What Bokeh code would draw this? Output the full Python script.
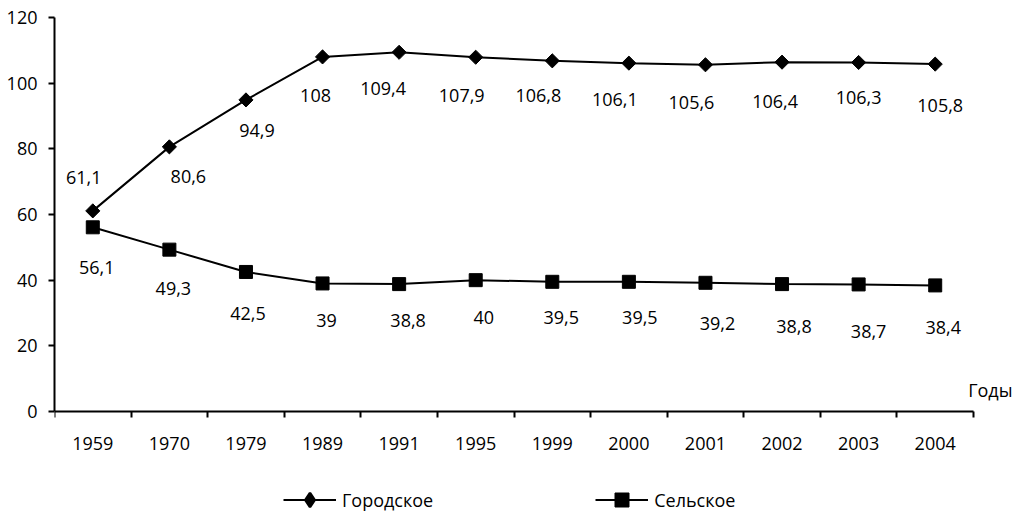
import math
from bokeh.plotting import figure
from bokeh.models import Range1d, FixedTicker, Legend, LegendItem, Label
from bokeh.core.properties import value
from bokeh.embed import file_html
from bokeh.resources import INLINE

# ---- data ----
years = ["1959", "1970", "1979", "1989", "1991", "1995", "1999", "2000", "2001", "2002", "2003", "2004"]
urban = [61.1, 80.6, 94.9, 108, 109.4, 107.9, 106.8, 106.1, 105.6, 106.4, 106.3, 105.8]
rural = [56.1, 49.3, 42.5, 39, 38.8, 40, 39.5, 39.5, 39.2, 38.8, 38.7, 38.4]
y_ticks = [0, 20, 40, 60, 80, 100, 120]
series_names = ["Городское", "Сельское"]
x_title = "Годы"

# ---- label placement (pixels) ----
urban_dx = [-9, 19, 11, -7, -16, -14, -14, -14, -14, -7, 0, 5]
urban_dy = [-33, 30, 31, 39, 36, 38, 35, 36, 38, 39, 35, 41]
rural_dx = [4, 4, 2, 4, 9, 8, 9, 11, 12, 12, 10, 8]
rural_dy = [40, 39, 42, 37, 36, 37, 36, 36, 41, 42, 47, 42]

FONT = "Open Sans"
FS = "18px"

def fmt(v):
    return ("%g" % v).replace(".", ",")

n = len(years)
xs = [i + 0.5 for i in range(n)]
urban_labels = [fmt(v) for v in urban]
rural_labels = [fmt(v) for v in rural]

# ---- geometry (pixels) ----
W, H = 1015, 512
LEFT, TOP = 54, 17
AX_RIGHT, AX_BOTTOM = 973, 411
px_per_y = (AX_BOTTOM - TOP) / 120.0
px_per_x = (AX_RIGHT - LEFT) / float(n)
y_min = -(H - AX_BOTTOM) / px_per_y
x_max = n + (W - AX_RIGHT) / px_per_x

p = figure(width=W, height=H,
           x_range=Range1d(0, x_max), y_range=Range1d(y_min, 120),
           output_backend="svg", toolbar_location=None,
           min_border_left=LEFT, min_border_right=0,
           min_border_top=TOP, min_border_bottom=0)
p.grid.visible = False
p.outline_line_color = None
p.background_fill_color = "white"
p.border_fill_color = "white"

# x axis drawn at y = 0
xa = p.xaxis[0]
xa.fixed_location = 0
xa.bounds = (0, n)
xa.ticker = FixedTicker(ticks=xs, minor_ticks=list(range(n + 1)))
xa.major_label_overrides = {x: y for x, y in zip(xs, years)}
xa.major_tick_out = 0
xa.major_tick_in = 0
xa.minor_tick_out = 6
xa.minor_tick_in = 0
xa.minor_tick_line_color = "black"
xa.minor_tick_line_width = 2
xa.axis_line_color = "black"
xa.axis_line_width = 2
xa.major_label_standoff = 19
xa.major_label_text_font = FONT
xa.major_label_text_font_size = FS
xa.major_label_text_color = "black"

# y axis
ya = p.yaxis[0]
ya.bounds = (0, 120)
ya.ticker = FixedTicker(ticks=y_ticks, minor_ticks=[])
ya.major_tick_out = 6
ya.major_tick_in = 0
ya.major_tick_line_color = "black"
ya.major_tick_line_width = 2
ya.axis_line_color = "black"
ya.axis_line_width = 2
ya.major_label_standoff = 11
ya.major_label_text_font = FONT
ya.major_label_text_font_size = FS
ya.major_label_text_color = "black"

# series
ul = p.line(xs, urban, line_color="black", line_width=2)
us = p.scatter(xs, urban, marker="square", angle=math.pi / 4, size=10,
               fill_color="black", line_color="black", line_width=1)
rl = p.line(xs, rural, line_color="black", line_width=2)
rs = p.scatter(xs, rural, marker="square", size=13,
               fill_color="black", line_color="black", line_width=1)

# diamond shown only in the legend (legend glyphs ignore marker angle)
ud = p.scatter(xs, urban, marker="diamond", size=10,
               fill_color="black", line_color="black", line_width=2.5)
ud.visible = False

# data labels
p.text(x=xs, y=urban, text=urban_labels, x_offset=urban_dx, y_offset=urban_dy,
       text_align="center", text_baseline="middle",
       text_font=value(FONT), text_font_size=FS, text_color="black")
p.text(x=xs, y=rural, text=rural_labels, x_offset=rural_dx, y_offset=rural_dy,
       text_align="center", text_baseline="middle",
       text_font=value(FONT), text_font_size=FS, text_color="black")

# axis title "Годы"
p.add_layout(Label(x=n - 0.07, y=6.4, text=x_title, text_align="left", text_baseline="middle",
                   text_font=FONT, text_font_size=FS, text_color="black"))

# legend
legend = Legend(items=[LegendItem(label=series_names[0], renderers=[ul, ud]),
                       LegendItem(label=series_names[1], renderers=[rl, rs])],
                orientation="horizontal", location=(229, -5),
                padding=0, margin=0, spacing=162,
                glyph_width=53, glyph_height=35, label_height=20, label_standoff=6,
                label_text_font=FONT, label_text_font_size=FS, label_text_color="black",
                border_line_color=None, background_fill_alpha=0)
p.add_layout(legend)

open("out.html", "w").write(file_html(p, INLINE))
